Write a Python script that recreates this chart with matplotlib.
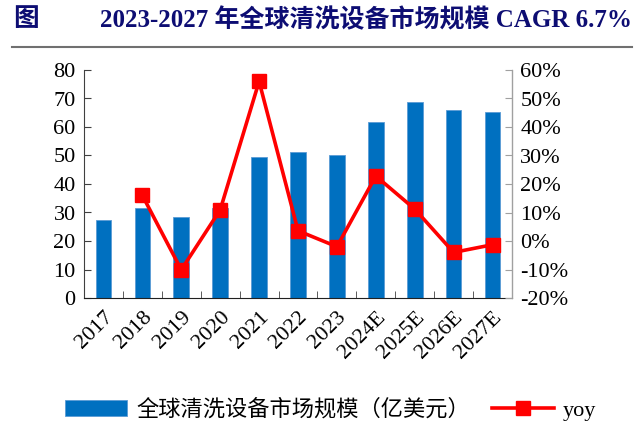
import matplotlib
matplotlib.use("Agg")
import matplotlib.pyplot as plt
import numpy as np
from matplotlib.ticker import FuncFormatter

plt.rcParams['font.family'] = ['Liberation Serif', 'Noto Sans CJK SC']

# data
years = ["2017", "2018", "2019", "2020", "2021", "2022", "2023",
         "2024E", "2025E", "2026E", "2027E"]
market = [27.4, 31.7, 28.5, 31.6, 49.4, 51.1, 50.0, 61.6, 68.6, 66.0, 65.2]
yoy = [np.nan, 16.0, -10.1, 10.9, 56.0, 3.6, -2.0, 22.8, 11.2, -4.0, -1.3]

BLUE = "#0070C0"
RED = "#FF0000"
NAVY = "#0D0D73"

fig = plt.figure(figsize=(6.42, 4.36), dpi=100)
ax = fig.add_axes([84/642, 1 - 298/436, 428/642, 228/436])
x = np.arange(len(years))

bars = ax.bar(x, market, width=0.4, color=BLUE, edgecolor="#5B9BD5", linewidth=0.6,
              label="全球清洗设备市场规模（亿美元）", zorder=2)
ax.set_xlim(-0.5, len(years) - 0.5)
ax.set_ylim(0, 80)
ax.set_yticks(range(0, 81, 10))
ax.set_xticks(x)
ax.set_xticklabels(years, rotation=45, ha="right", rotation_mode="anchor")
ax.set_xticks(np.arange(-0.5, len(years), 1), minor=True)
ax.tick_params(axis="x", which="major", length=0, labelsize=16, pad=7)
ax.tick_params(axis="x", which="minor", direction="in", length=5, color="#404040")
ax.tick_params(axis="y", direction="in", length=5, labelsize=16, pad=6, color="#404040")
ax.spines["top"].set_visible(False)
ax.spines["left"].set_color("#404040")
ax.spines["bottom"].set_color("#202020")

ax2 = ax.twinx()
line, = ax2.plot(x, yoy, color=RED, lw=2.6, marker="s", markersize=10, label="yoy", zorder=3)
ax2.set_ylim(-20, 60)
ax2.set_yticks(range(-20, 61, 10))
ax2.yaxis.set_major_formatter(FuncFormatter(lambda v, p: f"{v:.0f}%"))
ax2.tick_params(axis="y", direction="in", length=5, labelsize=16, pad=6, color="#A0A0A0")
ax2.spines["top"].set_visible(False)
ax2.spines["left"].set_visible(False)
ax2.spines["bottom"].set_visible(False)
ax2.spines["right"].set_color("#A0A0A0")

fig.legend([bars, line], ["全球清洗设备市场规模（亿美元）", "yoy"],
           loc="center", bbox_to_anchor=(0.515, 1 - 410/436), ncol=2, frameon=False,
           fontsize=16, handlelength=2.8, columnspacing=1.0, handletextpad=0.4)

fig.text(0.02, 1 - 20/436, "图", fontsize=18.5, fontweight="bold", color=NAVY,
         va="center", ha="left")
fig.text(0.985, 1 - 20/436, "2023-2027 年全球清洗设备市场规模 CAGR 6.7%",
         fontsize=18, fontweight="bold", color=NAVY, va="center", ha="right")
fig.add_artist(plt.Line2D([12/642, 632/642], [1 - 47/436, 1 - 47/436],
                          color="#707070", lw=1.5))

fig.savefig("out.png", dpi=100)
